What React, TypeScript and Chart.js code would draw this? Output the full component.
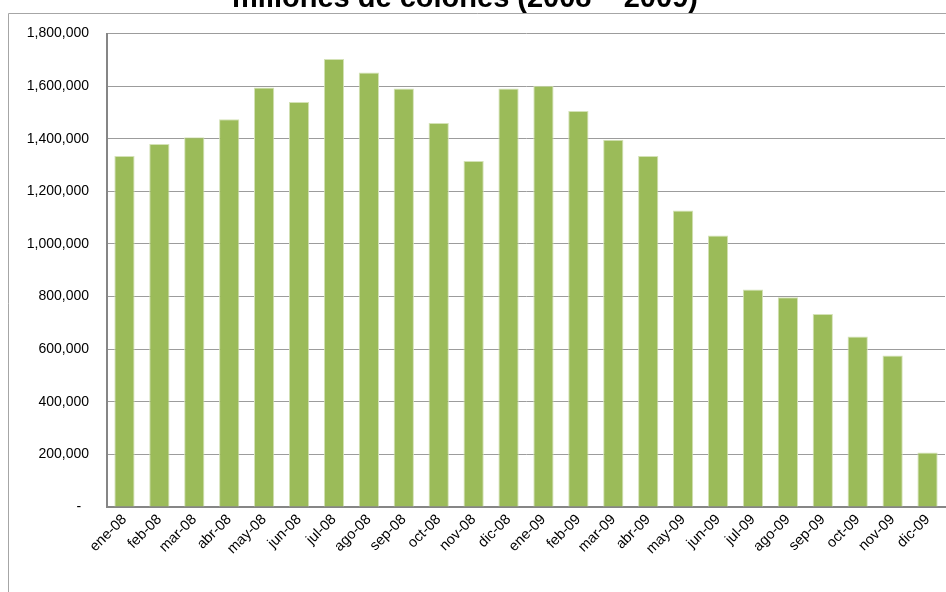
import { useEffect, useRef } from "react";
import { Chart, registerables } from "chart.js";

Chart.register(...registerables);

// Monthly balance, millions of colones
const months = [
  "ene-08", "feb-08", "mar-08", "abr-08", "may-08", "jun-08",
  "jul-08", "ago-08", "sep-08", "oct-08", "nov-08", "dic-08",
  "ene-09", "feb-09", "mar-09", "abr-09", "may-09", "jun-09",
  "jul-09", "ago-09", "sep-09", "oct-09", "nov-09", "dic-09",
];

const saldo = [
  1334000, 1380000, 1406000, 1474000, 1595000, 1540000,
  1703000, 1652000, 1591000, 1460000, 1315000, 1591000,
  1601000, 1505000, 1396000, 1334000, 1127000, 1032000,
  827000, 797000, 734000, 648000, 576000, 207000,
];

const yMin = 0;
const yMax = 1800000;
const yStep = 200000;

const titleText = "millones de colones (2008 – 2009)";

const FONT = '"Liberation Sans", Arial, sans-serif';

// White background, outer frame and the (partly visible) chart title
const framePlugin = {
  id: "frame",
  beforeDraw(chart: any) {
    const { ctx, width, height } = chart;
    ctx.save();
    ctx.fillStyle = "#ffffff";
    ctx.fillRect(0, 0, width, height);
    ctx.strokeStyle = "#a6a6a6";
    ctx.lineWidth = 1;
    ctx.beginPath();
    ctx.moveTo(8.5, height + 1);
    ctx.lineTo(8.5, 13.5);
    ctx.lineTo(width + 1, 13.5);
    ctx.stroke();
    ctx.fillStyle = "#000000";
    ctx.font = `bold 29px ${FONT}`;
    ctx.textAlign = "center";
    ctx.textBaseline = "alphabetic";
    ctx.fillText(titleText, 465, 6.5);
    ctx.restore();
  },
};

export default function App() {
  const canvasRef = useRef<HTMLCanvasElement | null>(null);

  useEffect(() => {
    if (!canvasRef.current) return;
    const chart = new Chart(canvasRef.current, {
      type: "bar",
      data: {
        labels: months,
        datasets: [
          {
            label: "Saldo",
            data: saldo,
            backgroundColor: "#9bbb59",
            borderColor: "#d4e2b6",
            borderWidth: 1,
            categoryPercentage: 1,
            barPercentage: 0.58,
          },
        ],
      },
      options: {
        animation: false,
        responsive: false,
        devicePixelRatio: 1,
        layout: { padding: { top: 33.5, right: 1, left: 0, bottom: 0 } },
        plugins: {
          legend: { display: false },
          title: { display: false },
          tooltip: { enabled: false },
        },
        scales: {
          x: {
            grid: { display: false, drawTicks: false },
            border: { display: true, color: "#868686", width: 2 },
            ticks: {
              minRotation: 45,
              maxRotation: 45,
              autoSkip: false,
              padding: 4,
              color: "#000000",
              font: { family: FONT, size: 14.5 },
            },
            afterFit(scale: any) {
              scale.height = 85;
            },
          },
          y: {
            min: yMin,
            max: yMax,
            grid: { color: "#9c9c9c", lineWidth: 1, drawTicks: false },
            border: { display: true, color: "#868686", width: 2 },
            ticks: {
              stepSize: yStep,
              padding: 18,
              color: "#000000",
              font: { family: FONT, size: 14 },
              callback: (v: any) =>
                Number(v) === 0 ? "-  " : Number(v).toLocaleString("en-US"),
            },
            afterFit(scale: any) {
              scale.width = 107;
            },
          },
        },
      },
      plugins: [framePlugin],
    });
    return () => chart.destroy();
  }, []);

  return (
    <div style={{ position: "absolute", left: 0, top: 0, width: 946, height: 592 }}>
      <canvas ref={canvasRef} width={946} height={592} style={{ display: "block" }} />
    </div>
  );
}
